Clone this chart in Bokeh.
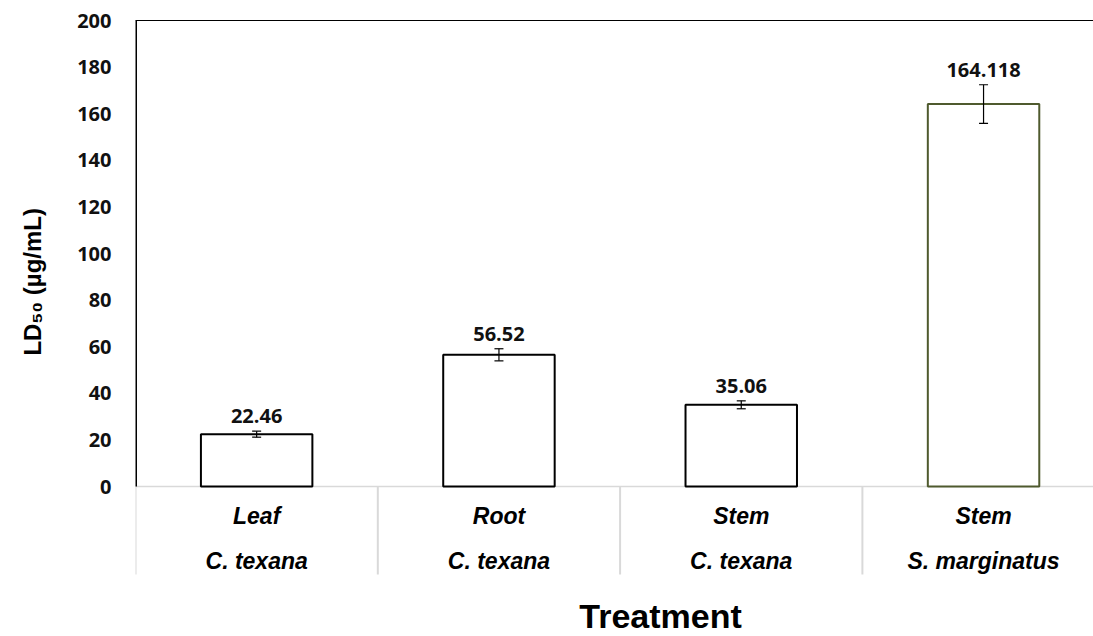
from bokeh.plotting import figure
from bokeh.models import (Range1d, FixedTicker, LinearAxis, ColumnDataSource,
                          Whisker, TeeHead)
from bokeh.core.properties import value
from bokeh.embed import file_html
from bokeh.resources import INLINE

# ---- data ----
parts = ["Leaf", "Root", "Stem", "Stem"]
species = ["C. texana", "C. texana", "C. texana", "S. marginatus"]
ld50 = [22.46, 56.52, 35.06, 164.118]
ld50_err = [1.3, 2.6, 1.7, 8.3]
value_labels = ["22.46", "56.52", "35.06", "164.118"]
bar_colors = ["black", "black", "black", "#4f5a2e"]
y_ticks = [0, 20, 40, 60, 80, 100, 120, 140, 160, 180, 200]
x_title = "Treatment"
y_title = "LD₅₀ (µg/mL)"

# ---- layout helpers (pixels) ----
W, H = 1093, 636
frame_top, axis_px, band_px = 20, 486, 574
ppu = (axis_px - frame_top) / 200.0          # pixels per data unit
y_start = -(H - axis_px) / ppu                # frame runs to the bottom edge
y_band = -(band_px - axis_px) / ppu           # category label band below 0
x_end = (W - 135) / 242.3                     # visible category span

n = len(ld50)
pos = [i + 0.5 for i in range(n)]
src = ColumnDataSource(dict(
    x=pos, top=ld50,
    upper=[v + e for v, e in zip(ld50, ld50_err)],
    lower=[v - e for v, e in zip(ld50, ld50_err)],
    lab=value_labels, color=bar_colors,
    part=parts, sp=species,
    y_part=[-29 / ppu] * n, y_sp=[-74 / ppu] * n,
))

p = figure(width=W, height=H, x_range=Range1d(0, x_end), y_range=Range1d(y_start, 200),
           output_backend="svg", toolbar_location=None,
           min_border_left=135, min_border_right=0, min_border_top=frame_top,
           min_border_bottom=0)
p.outline_line_color = None
p.xgrid.visible = False
p.ygrid.visible = False

# separators and baseline (light grey), left axis line (black)
sep_x = list(range(0, n))
p.segment(x0=sep_x, y0=[y_band] * n, x1=sep_x, y1=[0] * n,
          line_color="#d9d9d9", line_width=2)
p.segment(x0=[0], y0=[0], x1=[x_end], y1=[0], line_color="#d9d9d9", line_width=1.3)
p.segment(x0=[0], y0=[0], x1=[0], y1=[200], line_color="black", line_width=3)

# bars
p.vbar(x="x", top="top", width=0.46, bottom=0, source=src,
       fill_color="white", line_color="color", line_width=2)

# error bars
wh = Whisker(base="x", upper="upper", lower="lower", source=src,
             line_color="black", line_width=1.2,
             upper_head=TeeHead(size=9, line_color="black", line_width=1.2),
             lower_head=TeeHead(size=9, line_color="black", line_width=1.2))
wh.level = "overlay"
p.add_layout(wh)

# value labels
p.text(x="x", y="upper", text="lab", source=src, y_offset=-8,
       text_align="center", text_baseline="bottom",
       text_font=value("Open Sans"), text_font_style="bold",
       text_font_size="20px", text_color="#111111")

# category labels
p.text(x="x", y="y_part", text="part", source=src,
       text_align="center", text_baseline="middle",
       text_font=value("Liberation Sans"), text_font_style="bold italic",
       text_font_size="23px", text_color="black")
p.text(x="x", y="y_sp", text="sp", source=src,
       text_align="center", text_baseline="middle",
       text_font=value("Liberation Sans"), text_font_style="bold italic",
       text_font_size="23px", text_color="black")

# x axis title (drawn inside the extended frame)
p.text(x=[(660 - 135) / 242.3], y=[-(615 - axis_px) / ppu], text=[x_title],
       text_align="center", text_baseline="middle",
       text_font=value("Liberation Sans"), text_font_style="bold",
       text_font_size="34px", text_color="black")

# y axis
yax = p.yaxis[0]
yax.ticker = FixedTicker(ticks=y_ticks)
yax.major_tick_out = 0
yax.major_tick_in = 0
yax.minor_tick_line_color = None
yax.axis_line_color = None
yax.major_label_text_font = "Open Sans"
yax.major_label_text_font_style = "bold"
yax.major_label_text_font_size = "20px"
yax.major_label_text_color = "#111111"
yax.major_label_standoff = 24
yax.axis_label = "\u00a0" * 14 + y_title
yax.axis_label_text_font = "Liberation Sans"
yax.axis_label_text_font_style = "bold"
yax.axis_label_text_font_size = "24px"
yax.axis_label_text_color = "black"
yax.axis_label_standoff = 28

# x axis hidden
p.xaxis.visible = False

# top border line
top_ax = LinearAxis(ticker=FixedTicker(ticks=[]), major_tick_out=0, major_tick_in=0,
                    minor_tick_out=0, minor_tick_in=0, major_label_text_font_size="1px",
                    major_label_text_color=None, axis_line_color="black", axis_line_width=1)
p.add_layout(top_ax, "above")

open("out.html", "w").write(file_html(p, INLINE))
